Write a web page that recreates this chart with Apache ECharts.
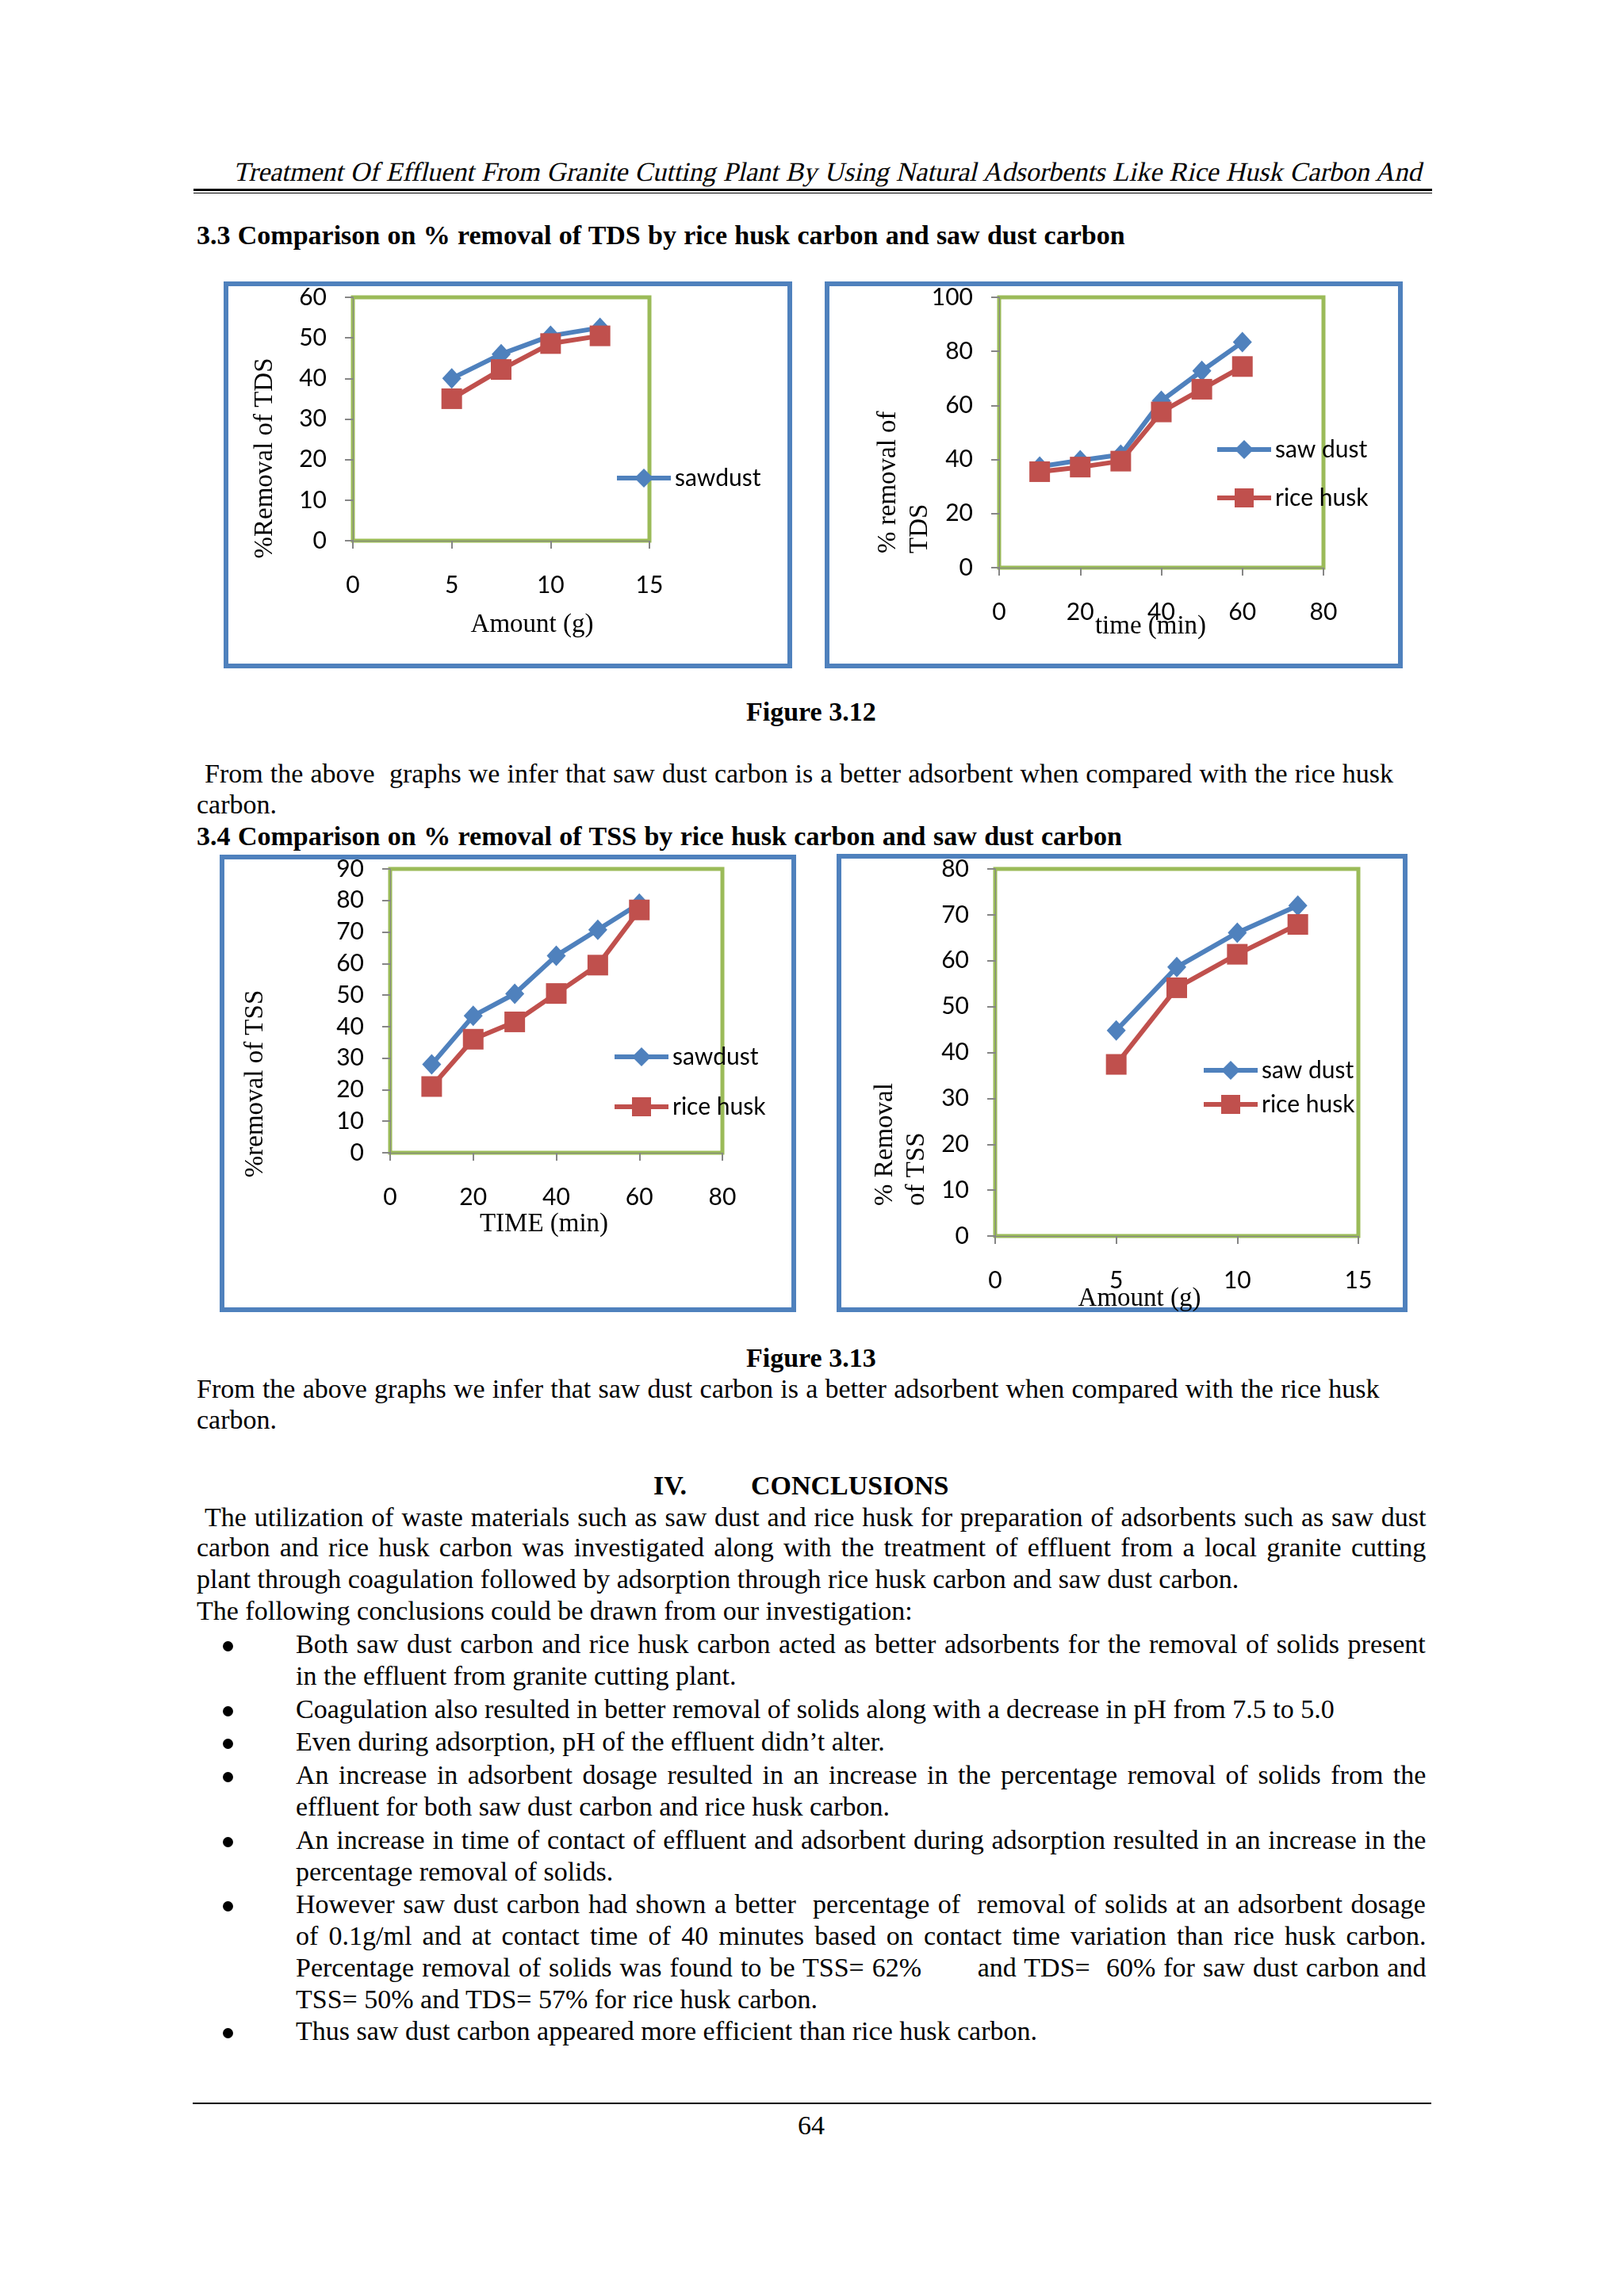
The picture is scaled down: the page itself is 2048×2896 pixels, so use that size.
<!DOCTYPE html>
<html>
<head>
<meta charset="utf-8">
<script src="https://cdn.jsdelivr.net/npm/echarts/dist/echarts.min.js"></script>
<style>
html,body{margin:0;padding:0;background:#fff;}
#page{position:relative;width:2048px;height:2896px;background:#fff;overflow:hidden;font-family:"Liberation Serif","Times New Roman",serif;color:#000;}
.ln{position:absolute;font-size:34px;line-height:34px;white-space:pre;}
.chart{position:absolute;}
.rule{position:absolute;background:#000;}
.dot{position:absolute;width:13px;height:13px;border-radius:50%;background:#000;}
</style>
</head>
<body>
<div id="page"></div>
<script>
// ---------------- DATA ----------------
// Figure 3.12 (left): % removal of TDS vs amount (g)
const amountTDS = [5, 7.5, 10, 12.5];
const sawdustTDSAmount = [40, 46, 50.5, 52.5];
const riceTDSAmount = [35, 42.2, 48.6, 50.5];
// Figure 3.12 (right): % removal of TDS vs time (min)
const timeTDS = [10, 20, 30, 40, 50, 60];
const sawdustTDSTime = [37.4, 39.7, 41.8, 61.7, 72.8, 83.4];
const riceTDSTime = [35.5, 37.2, 39.4, 57.6, 66, 74.4];
// Figure 3.13 (left): % removal of TSS vs time (min)
const timeTSS = [10, 20, 30, 40, 50, 60];
const sawdustTSSTime = [28, 43.4, 50.4, 62.5, 70.7, 79];
const riceTSSTime = [21, 36, 41.5, 50.5, 59.5, 77];
// Figure 3.13 (right): % removal of TSS vs amount (g)
const amountTSS = [5, 7.5, 10, 12.5];
const sawdustTSSAmount = [44.8, 58.6, 66.1, 72];
const riceTSSAmount = [37.4, 54.1, 61.4, 67.9];

// ---------------- PAGE TEXT ----------------
const page = document.getElementById('page');
const ASC = 28.5;
function place(text, x, baseline, o) {
  o = o || {};
  const d = document.createElement('div');
  d.className = 'ln';
  d.textContent = text;
  if (o.bold) d.style.fontWeight = 'bold';
  if (o.slant) { d.style.transform = 'skewX(-13deg)'; d.style.transformOrigin = '0 28px'; }
  d.style.left = x + 'px';
  d.style.top = (baseline - ASC) + 'px';
  page.appendChild(d);
  const w = d.offsetWidth;
  if (o.center !== undefined) d.style.left = (o.center - w / 2) + 'px';
  if (o.justifyTo !== undefined) {
    const n = (text.match(/ /g) || []).length;
    if (n > 0) d.style.wordSpacing = ((o.justifyTo - x - w) / n) + 'px';
  }
  return d;
}
function rule(x1, x2, y, h) {
  const r = document.createElement('div');
  r.className = 'rule';
  r.style.left = x1 + 'px'; r.style.width = (x2 - x1) + 'px';
  r.style.top = y + 'px'; r.style.height = h + 'px';
  page.appendChild(r);
}
function bullet(cx, baseline) {
  const b = document.createElement('div');
  b.className = 'dot';
  b.style.left = (cx - 6.5) + 'px';
  b.style.top = (baseline - 9 - 6.5) + 'px';
  page.appendChild(b);
}
const RJ = 1798;
place('Treatment Of Effluent From Granite Cutting Plant By Using Natural Adsorbents Like Rice Husk Carbon And', 294, 228, {slant: true, justifyTo: 1792});
rule(244, 1806, 238, 3);
rule(244, 1806, 243, 1);
place('3.3 Comparison on % removal of TDS by rice husk carbon and saw dust carbon', 248, 308, {bold: true, justifyTo: 1419});
place('Figure 3.12', 0, 909, {bold: true, center: 1023});
place('From the above  graphs we infer that saw dust carbon is a better adsorbent when compared with the rice husk', 258, 987, {justifyTo: 1757});
place('carbon.', 248, 1026);
place('3.4 Comparison on % removal of TSS by rice husk carbon and saw dust carbon', 248, 1066, {bold: true, justifyTo: 1415});
place('Figure 3.13', 0, 1724, {bold: true, center: 1023});
place('From the above graphs we infer that saw dust carbon is a better adsorbent when compared with the rice husk', 248, 1763, {justifyTo: 1740});
place('carbon.', 248, 1802);
place('IV.', 824, 1885, {bold: true});
place('CONCLUSIONS', 947, 1885, {bold: true});
place('The utilization of waste materials such as saw dust and rice husk for preparation of adsorbents such as saw dust', 258, 1925, {justifyTo: RJ});
place('carbon and rice husk carbon was investigated along with the treatment of effluent from a local granite cutting', 248, 1963, {justifyTo: RJ});
place('plant through coagulation followed by adsorption through rice husk carbon and saw dust carbon.', 248, 2003);
place('The following conclusions could be drawn from our investigation:', 248, 2043);
const BX = 287, TX = 373;
const bullets = [
  [2085, true, 'Both saw dust carbon and rice husk carbon acted as better adsorbents for the removal of solids present', true],
  [2125, false, 'in the effluent from granite cutting plant.', false],
  [2167, true, 'Coagulation also resulted in better removal of solids along with a decrease in pH from 7.5 to 5.0', false],
  [2208, true, 'Even during adsorption, pH of the effluent didn\u2019t alter.', false],
  [2250, true, 'An increase in adsorbent dosage resulted in an increase in the percentage removal of solids from the', true],
  [2290, false, 'effluent for both saw dust carbon and rice husk carbon.', false],
  [2332, true, 'An increase in time of contact of effluent and adsorbent during adsorption resulted in an increase in the', true],
  [2372, false, 'percentage removal of solids.', false],
  [2413, true, 'However saw dust carbon had shown a better  percentage of  removal of solids at an adsorbent dosage', true],
  [2453, false, 'of 0.1g/ml and at contact time of 40 minutes based on contact time variation than rice husk carbon.', true],
  [2493, false, 'Percentage removal of solids was found to be TSS= 62%       and TDS=  60% for saw dust carbon and', true],
  [2533, false, 'TSS= 50% and TDS= 57% for rice husk carbon.', false],
  [2573, true, 'Thus saw dust carbon appeared more efficient than rice husk carbon.', false]
];
bullets.forEach(function (b) {
  if (b[1]) bullet(BX, b[0]);
  place(b[2], TX, b[0], b[3] ? {justifyTo: RJ} : {});
});
rule(243, 1805, 2652, 2);
place('64', 0, 2692, {center: 1023});

// ---------------- CHARTS ----------------
const BLUE = '#4F81BD', RED = '#C0504D', GREEN = '#9BBB59', GREY = '#868686';
const AXFONT = 'Lato';
const TFONT = '33px "Liberation Serif", "Times New Roman", serif';

function titleText(t, x, y, rot, align) {
  return {
    type: 'text', x: x, y: y, rotation: rot, z: 100,
    style: {
      text: t, font: TFONT, fill: '#000',
      align: align, verticalAlign: 'middle',
      textAlign: align, textVerticalAlign: 'middle'
    }
  };
}
function pairs(xs, ys) { return xs.map(function (x, i) { return [x, ys[i]]; }); }

function makeChart(c) {
  const d = document.createElement('div');
  d.className = 'chart';
  d.style.left = c.L + 'px'; d.style.top = c.T + 'px';
  d.style.width = c.W + 'px'; d.style.height = c.H + 'px';
  page.appendChild(d);
  const ch = echarts.init(d, null, {renderer: 'canvas'});
  const graphic = [{
    type: 'rect', z: 100,
    shape: {x: 3, y: 3, width: c.W - 6, height: c.H - 6},
    style: {fill: 'none', stroke: BLUE, lineWidth: 6}
  }];
  c.yTitles.forEach(function (t) { graphic.push(titleText(t[0], t[1], t[2], Math.PI / 2, t[3])); });
  graphic.push(titleText(c.xTitle[0], c.xTitle[1], c.xTitle[2], 0, 'center'));
  const axisCommon = {
    type: 'value',
    axisLine: {show: true, onZero: false, lineStyle: {color: GREY, width: 1}},
    axisTick: {show: true, length: 10, lineStyle: {color: GREY, width: 2}},
    splitLine: {show: false},
    axisLabel: {color: '#000', fontFamily: AXFONT, fontSize: 30}
  };
  ch.setOption({
    animation: false,
    grid: Object.assign({show: true, borderColor: GREEN, borderWidth: 5, backgroundColor: 'rgba(0,0,0,0)'}, c.grid),
    xAxis: Object.assign({}, axisCommon, {min: 0, max: c.xMax, interval: c.xInt,
      axisLabel: Object.assign({}, axisCommon.axisLabel, {margin: 41})}),
    yAxis: Object.assign({}, axisCommon, {min: 0, max: c.yMax, interval: c.yInt,
      axisLabel: Object.assign({}, axisCommon.axisLabel, {margin: 33})}),
    legend: {
      data: c.legend, orient: 'vertical', left: c.legLeft, top: c.legTop - 4,
      itemWidth: 68, itemHeight: 30, itemGap: c.legGap - 8, padding: 0,
      lineStyle: {width: 6},
      textStyle: {fontFamily: AXFONT, fontSize: 30, color: '#000'}
    },
    series: [
      {name: c.names[0], type: 'line', data: pairs(c.xs, c.s1), symbol: 'diamond', symbolSize: [24, 26],
       lineStyle: {width: 6, color: BLUE}, itemStyle: {color: BLUE}, z: 3},
      {name: c.names[1], type: 'line', data: pairs(c.xs, c.s2), symbol: 'rect', symbolSize: [26, 26],
       lineStyle: {width: 6, color: RED}, itemStyle: {color: RED}, z: 4}
    ],
    graphic: graphic
  });
}

makeChart({
  L: 282, T: 355, W: 717, H: 488,
  grid: {left: 163, top: 20, width: 374, height: 307},
  xMax: 15, xInt: 5, yMax: 60, yInt: 10,
  xs: amountTDS, s1: sawdustTDSAmount, s2: riceTDSAmount,
  names: ['sawdust', 'rice husk'], legend: ['sawdust'],
  legLeft: 493, legTop: 237, legGap: 0,
  yTitles: [['%Removal of TDS', 52, 223, 'center']],
  xTitle: ['Amount (g)', 389, 433]
});
makeChart({
  L: 1040, T: 355, W: 729, H: 488,
  grid: {left: 220, top: 20, width: 409, height: 341},
  xMax: 80, xInt: 20, yMax: 100, yInt: 20,
  xs: timeTDS, s1: sawdustTDSTime, s2: riceTDSTime,
  names: ['saw dust', 'rice husk'], legend: ['saw dust', 'rice husk'],
  legLeft: 492, legTop: 201, legGap: 39,
  yTitles: [['% removal of', 80, 343, 'left'], ['TDS', 120, 343, 'left']],
  xTitle: ['time (min)', 411, 435]
});
makeChart({
  L: 277, T: 1078, W: 727, H: 577,
  grid: {left: 215, top: 18, width: 419, height: 358},
  xMax: 80, xInt: 20, yMax: 90, yInt: 10,
  xs: timeTSS, s1: sawdustTSSTime, s2: riceTSSTime,
  names: ['sawdust', 'rice husk'], legend: ['sawdust', 'rice husk'],
  legLeft: 495, legTop: 244, legGap: 41,
  yTitles: [['%removal of TSS', 45, 289, 'center']],
  xTitle: ['TIME (min)', 409, 466]
});
makeChart({
  L: 1055, T: 1077, W: 720, H: 578,
  grid: {left: 200, top: 19, width: 458, height: 463},
  xMax: 15, xInt: 5, yMax: 80, yInt: 10,
  xs: amountTSS, s1: sawdustTSSAmount, s2: riceTSSAmount,
  names: ['saw dust', 'rice husk'], legend: ['saw dust', 'rice husk'],
  legLeft: 460, legTop: 262, legGap: 21,
  yTitles: [['% Removal', 61, 444, 'left'], ['of TSS', 101, 444, 'left']],
  xTitle: ['Amount (g)', 382, 561]
});
</script>
</body>
</html>
